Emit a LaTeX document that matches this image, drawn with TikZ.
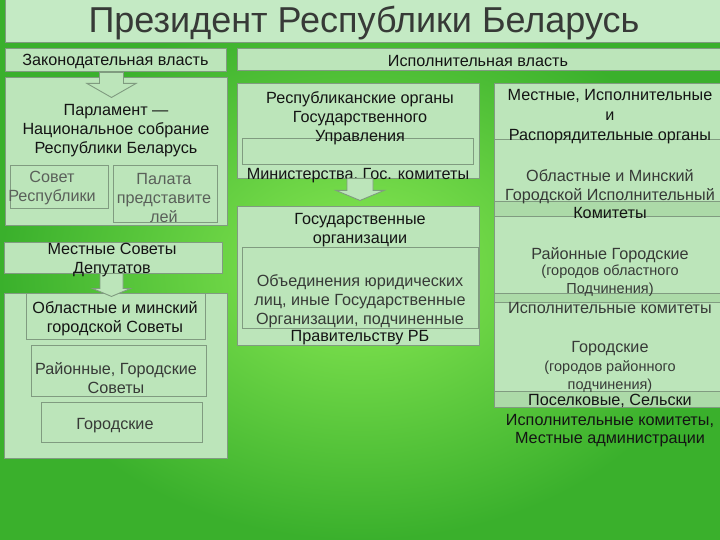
\documentclass[tikz,border=0pt]{standalone}
\usepackage{fontspec}
\setmainfont{Liberation Sans}
\usetikzlibrary{fit,calc}

\definecolor{bglight}{RGB}{138,234,84}
\definecolor{bgdark}{RGB}{58,176,44}
\definecolor{titlefill}{RGB}{196,234,196}
\definecolor{panelfill}{RGB}{188,229,186}
\definecolor{stripfill}{RGB}{172,218,168}
\definecolor{panelline}{RGB}{128,155,128}
\definecolor{textdark}{RGB}{20,20,20}
\definecolor{textgray}{RGB}{55,58,55}
\definecolor{textlight}{RGB}{90,96,90}

\tikzset{
  panel/.style={draw=panelline, fill=panelfill, line width=0.9pt, inner sep=0pt},
  strip/.style={panel, fill=stripfill},
  blockarrow/.style={draw=panelline, fill=panelfill, line width=0.9pt, line join=miter},
  txt/.style={text=textdark, font=\fontsize{16.2}{19}\selectfont, align=center, inner sep=0pt, yshift=-1.8pt},
  gtxt/.style={txt, text=textgray},
  ltxt/.style={txt, text=textlight},
  stxt/.style={txt, text=textgray, font=\fontsize{14.5}{18}\selectfont},
}

\begin{document}
\begin{tikzpicture}[x=1pt,y=-1pt]
\useasboundingbox (0,0) rectangle (720,540);
% background
\shade[inner color=bglight, outer color=bgdark] (0,0) rectangle (720,540);

% President
\node[panel, fill=titlefill, fit={(5,-2) (722,42)}] (pres) {};
\node[txt, text=textgray, font=\fontsize{36}{38}\selectfont] (prestxt) at (364,21) {Президент Республики Беларусь};

% Branches
\node[panel, fit={(5,48) (226,71)}] (legis) {};
\node[txt] (legistxt) at (legis.center) {Законодательная власть};
\node[panel, fit={(237,48) (722,70)}] (exec) {};
\node[txt] (exectxt) at (478,59) {Исполнительная власть};

% Parliament
\node[panel, fit={(5,77) (227,225)}] (parl) {};
\node[panel, fill opacity=0.7, fit={(10,165) (108,208)}] (sovet) {};
\node[panel, fill opacity=0.7, fit={(113,165) (217,222)}] (palata) {};
\draw[blockarrow] ($(legis.south)+(-16,1)$) -- ++(0,11) -- ++(-12.5,0) -- ++(24.5,14)
  -- ++(24.5,-14) -- ++(-12.5,0) -- ++(0,-11) -- cycle;
\node[txt] (parltxt) at (116,129) {Парламент —\\Национальное собрание\\Республики Беларусь};
\node[ltxt] (sovettxt) at (52,186) {Совет\\Республики};
\node[ltxt] (palatatxt) at (164,196) {Палата\\представите\\лей};

% Local councils
\node[panel, fit={(4,242) (222,273)}] (mestsov) {};
\node[panel, fit={(4,293) (227,458)}] (soviets) {};
\node[panel, fit={(26,293) (205,339)}] (oblsov) {};
\node[panel, fit={(31,345) (206,396)}] (raisov) {};
\node[panel, fit={(41,402) (202,442)}] (gorsov) {};
\draw[blockarrow] ($(mestsov.south)+(-13,0)$) -- ++(0,15) -- ++(-7.5,0) -- ++(19,8)
  -- ++(19,-8) -- ++(-7.5,0) -- ++(0,-15) -- cycle;
\node[txt] (mestsovtxt) at (112,258) {Местные Советы\\Депутатов};
\node[gtxt, text=textdark] (oblsovtxt) at (115,317) {Областные и минский\\городской Советы};
\node[gtxt] (raisovtxt) at (116,376) {Районные, Городские\\Советы};
\node[gtxt] (gorsovtxt) at (115,424) {Городские};

% Republican bodies
\node[panel, fit={(237,83) (479,178)}] (resp) {};
\node[panel, fill opacity=0.7, fit={(242,138) (473,164)}] (respin) {};
\node[txt] (resptxt) at (360,116) {Республиканские органы\\Государственного\\Управления};
\node[txt] (mintxt) at (358,174) {Министерства, Гос. комитеты};
\draw[blockarrow] ($(resp.south)+(-11,0)$) -- ++(0,12) -- ++(-11,0) -- ++(24,10)
  -- ++(24,-10) -- ++(-11,0) -- ++(0,-12) -- cycle;

% State organisations
\node[panel, fit={(237,206) (479,345)}] (gosorg) {};
\node[panel, fill opacity=0.7, fit={(242,247) (478,328)}] (gosorgin) {};
\node[txt] (gosorgtxt) at (360,228.5) {Государственные\\организации};
\node[gtxt] (obtxt) at (360,299) {Объединения юридических\\лиц, иные Государственные\\Организации, подчиненные};
\node[txt] (pravtxt) at (360,336) {Правительству РБ};

% Local executive bodies
\node[panel, fit={(494,83) (722,140)}] (mestisp) {};
\node[panel, fit={(494,139) (722,216)}] (oblisp) {};
\node[panel, fit={(494,201) (722,302)}] (raiisp) {};
\node[strip, fit={(494,201) (722,216)}] (strip1) {};
\node[panel, fit={(494,293) (722,407)}] (gorisp) {};
\node[strip, fit={(494,293) (722,302)}] (strip2) {};
\node[strip, fit={(494,391) (722,407)}] (strip3) {};

\node[txt, font=\fontsize{16.2}{20}\selectfont] (mestisptxt) at (610,115) {Местные, Исполнительные\\и\\Распорядительные органы};
\node[gtxt] (oblisptxt) at (610,184.5) {Областные и Минский\\Городской Исполнительный};
\node[txt] (komtxt) at (610,211) {Комитеты};
\node[gtxt] (raiisptxt) at (610,253) {Районные Городские};
\node[stxt] (raisubtxt) at (610,279) {(городов областного\\Подчинения)};
\node[gtxt] (isptxt) at (610,306) {Исполнительные комитеты};
\node[gtxt] (gorisptxt) at (610,347) {Городские};
\node[stxt] (gorsubtxt) at (610,374.5) {(городов районного\\подчинения)};
\node[txt] (posttxt) at (610,399) {Поселковые, Сельски};
\node[txt, font=\fontsize{16.2}{18.5}\selectfont] (admtxt) at (610,429) {Исполнительные комитеты,\\Местные администрации};
\end{tikzpicture}
\end{document}
